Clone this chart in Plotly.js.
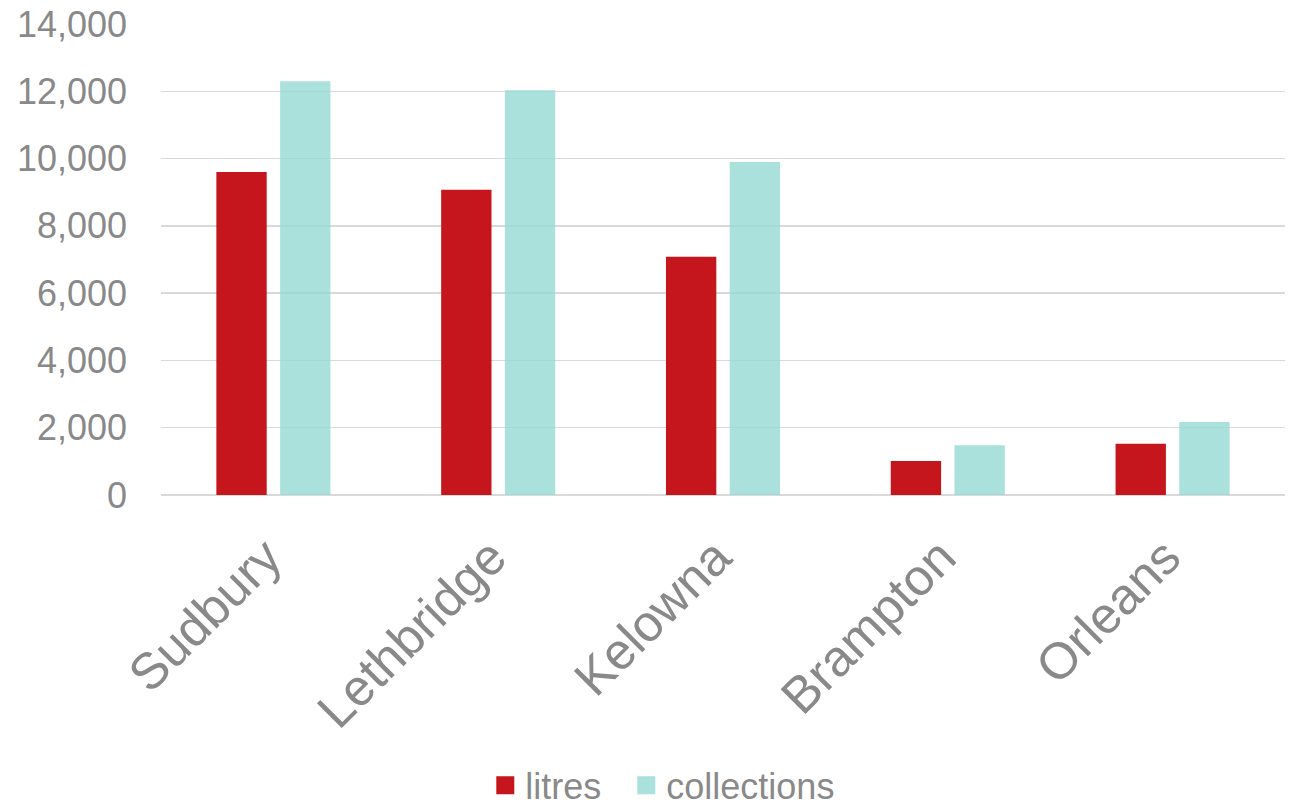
<!DOCTYPE html>
<html>
<head>
<meta charset="utf-8">
<script src="https://cdn.plot.ly/plotly-3.0.1.min.js"></script>
<style>
  html, body { margin: 0; padding: 0; background: #ffffff; }
  #chart { width: 1292px; height: 808px; }
</style>
</head>
<body>
<div id="chart"></div>
<script>
// Cities and their totals
const cities = ['Sudbury', 'Lethbridge', 'Kelowna', 'Brampton', 'Orleans'];
const litres = [9600, 9070, 7080, 1010, 1520];
const collections = [12300, 12030, 9900, 1480, 2170];
const yTicks = [0, 2000, 4000, 6000, 8000, 10000, 12000, 14000];
const seriesNames = ['litres', 'collections'];

const RED = '#C4161C';
const TEAL = 'rgba(150,218,211,0.8)';
const TEAL_SOLID = '#ABE1DC';
const GREY = '#898989';
const FONT = 'Liberation Sans, Arial, sans-serif';
const PAD = '\u00a0\u00a0';

const traces = [
  {
    type: 'bar', name: seriesNames[0], x: cities, y: litres,
    marker: { color: RED }, showlegend: false, hoverinfo: 'x+y+name'
  },
  {
    type: 'bar', name: seriesNames[1], x: cities, y: collections,
    marker: { color: TEAL }, showlegend: false, hoverinfo: 'x+y+name'
  },
  // legend entries with square swatches
  {
    type: 'scatter', mode: 'markers', name: seriesNames[0] + PAD, x: [null], y: [null],
    marker: { symbol: 'square', size: 16, color: RED, line: { color: RED, width: 2 } }
  },
  {
    type: 'scatter', mode: 'markers', name: seriesNames[1], x: [null], y: [null],
    marker: { symbol: 'square', size: 16, color: TEAL_SOLID, line: { color: TEAL_SOLID, width: 2 } }
  }
];

const layout = {
  width: 1292, height: 808,
  margin: { l: 161, r: 7, t: 24, b: 313 },
  paper_bgcolor: '#ffffff', plot_bgcolor: '#ffffff',
  font: { family: FONT, color: GREY },
  barmode: 'group',
  bargap: 0.433,
  bargroupgap: 0.21,
  xaxis: {
    type: 'category',
    tickangle: -45,
    tickfont: { size: 51, color: GREY, family: FONT },
    showgrid: false, showline: false, zeroline: false,
    ticks: '', ticklabelstandoff: 21, ticklabelshift: -7
  },
  yaxis: {
    range: [0, 14000],
    tickvals: yTicks,
    tickformat: ',d',
    tickfont: { size: 36, color: GREY, family: FONT },
    showgrid: true, gridcolor: '#D9D9D9', gridwidth: 1.5,
    zeroline: true, zerolinecolor: '#D9D9D9', zerolinewidth: 1.5,
    showline: false, ticks: '', ticklabelstandoff: 33
  },
  legend: {
    orientation: 'h',
    xref: 'container', yref: 'container',
    x: 0.513, xanchor: 'center',
    y: 0.028, yanchor: 'middle',
    font: { size: 36, color: GREY, family: FONT },
    itemwidth: 30,
    bgcolor: 'rgba(0,0,0,0)'
  },
  showlegend: true
};

Plotly.newPlot('chart', traces, layout, { displayModeBar: false, staticPlot: true });
</script>
</body>
</html>
